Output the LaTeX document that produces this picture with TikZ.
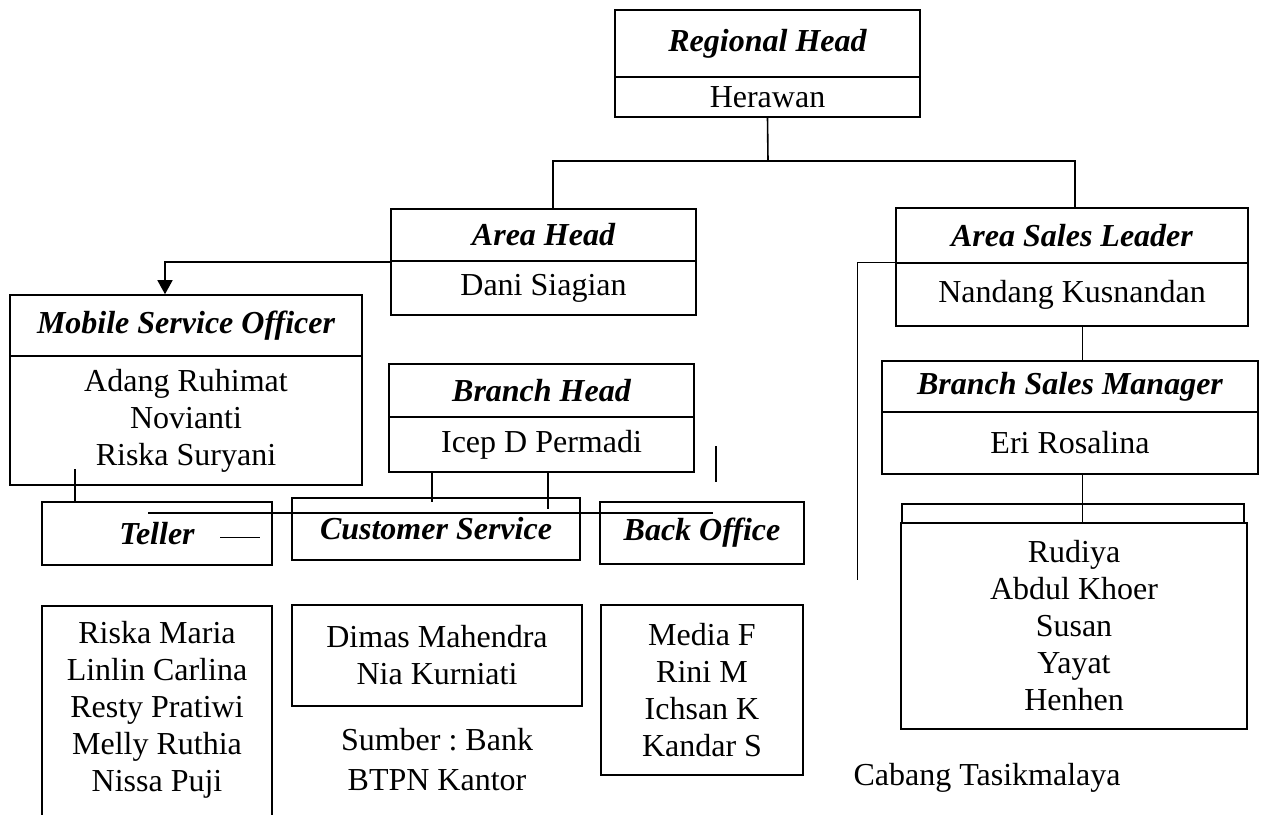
\documentclass[tikz,border=0pt]{standalone}
\usepackage{fontspec}
\setmainfont{Liberation Serif}
\frenchspacing
\usetikzlibrary{arrows.meta}

\begin{document}
\begin{tikzpicture}[x=0.5pt, y=-0.5pt,
	every node/.style={font=\fontsize{16}{18.5}\selectfont},
	box/.style 2 args={draw, line width=0.8pt, inner sep=0pt, align=center,
		minimum width=#1*0.5pt, minimum height=#2*0.5pt},
	title/.style={font=\fontsize{16}{18.5}\selectfont\bfseries\itshape},
	link/.style={line width=0.8pt},
	thinlink/.style={line width=0.5pt}]
	\useasboundingbox (0,0) rectangle (1262,814);
	\clip (0,0) rectangle (1262,814);
	% top of the chart
	\node[box={305}{67}, title] (rh) at (767.5,43.5) {Regional Head};
	\node[box={305}{40}] (rhn) at (767.5,97) {Herawan};
	\node[box={305}{52}, title] (ah) at (543.5,235) {Area Head};
	\node[box={305}{54}] (ahn) at (543.5,288) {Dani Siagian};
	\node[box={352}{55}, title] (asl) at (1072,235.5) {Area Sales Leader};
	\node[box={352}{63}] (asln) at (1072,294.5) {Nandang Kusnandan};
	% branch side
	\node[box={352}{61}, title] (mso) at (186,325.5) {Mobile Service Officer};
	\node[box={352}{129}] (msonames) at (186,420.5) {Adang Ruhimat\\Novianti\\Riska Suryani};
	\node[box={305}{53}, title] (bh) at (541.5,390.5) {Branch Head};
	\node[box={305}{55}] (bhn) at (541.5,444.5) {Icep D Permadi};
	\node[box={230}{63}, title] (tel) at (157,533.5) {Teller};
	\node[box={288}{62}, title] (cs) at (436,529) {Customer Service};
	\node[box={204}{62}, title] (bo) at (702,533) {Back Office};
	\node[box={230}{260}, anchor=north] (telbox) at (157,605) {};
	\node[align=center] (telnames) at (157,710) {Riska Maria\\Linlin Carlina\\Resty Pratiwi\\Melly Ruthia\\Nissa Puji};
	\node[box={290}{101}] (csnames) at (437,655.5) {Dimas Mahendra\\Nia Kurniati};
	\node[box={202}{170}] (bonames) at (702,690) {Media F\\Rini M\\Ichsan K\\Kandar S};
	% sales side
	\node[box={376}{51}, title] (bsm) at (1070,386.5) {Branch Sales Manager};
	\node[box={376}{62}] (bsmn) at (1070,443) {Eri Rosalina};
	\node[box={342}{19}] (sales) at (1073,513.5) {};
	\node[box={346}{206}] (salesnames) at (1074,626) {Rudiya\\Abdul Khoer\\Susan\\Yayat\\Henhen};
	% source note
	\node (src) at (437,740) {Sumber : Bank};
	\node (srcb) at (437,780) {BTPN Kantor};
	\node (cab) at (987,778) {Cabang Tasikmalaya};

	\coordinate (split) at (768,161);
	\coordinate (busL) at (148,513);
	\coordinate (busR) at (713,513);
	\coordinate (dashL) at (220,537);
	\coordinate (dashR) at (260,537);
	\coordinate (stubT) at (716,446);
	\coordinate (stubB) at (716,482);
	\coordinate (aslTail) at (857,580);

	\draw[link] (rhn.south) -- (split);
	\draw[link] ([xshift=4.75pt]ah.north) |- (split) -| ([xshift=1.5pt]asl.north);
	\draw[link, -{Triangle[length=7pt, width=7.5pt]}] (ah.south west) -| ([xshift=-10.5pt]mso.north);
	\draw[link] ([xshift=-41pt]tel.north) -- ++(0,-32);
	\draw[link] (busL) -- (busR);
	\draw[thinlink] (dashL) -- (dashR);
	\draw[link] ([xshift=-54.75pt]bhn.south) -- ++(0,29);
	\draw[link] ([xshift=3.25pt]bhn.south) -- ++(0,36);
	\draw[link] (stubT) -- (stubB);
	\draw[thinlink] (asln.north west) -| (aslTail);
	\draw[thinlink] ([xshift=5pt]asln.south) -- ([xshift=5pt]asln.south |- bsm.north);
	\draw[thinlink] ([xshift=6pt]bsmn.south) -- ([xshift=6pt]bsmn.south |- salesnames.north);
\end{tikzpicture}
\end{document}
